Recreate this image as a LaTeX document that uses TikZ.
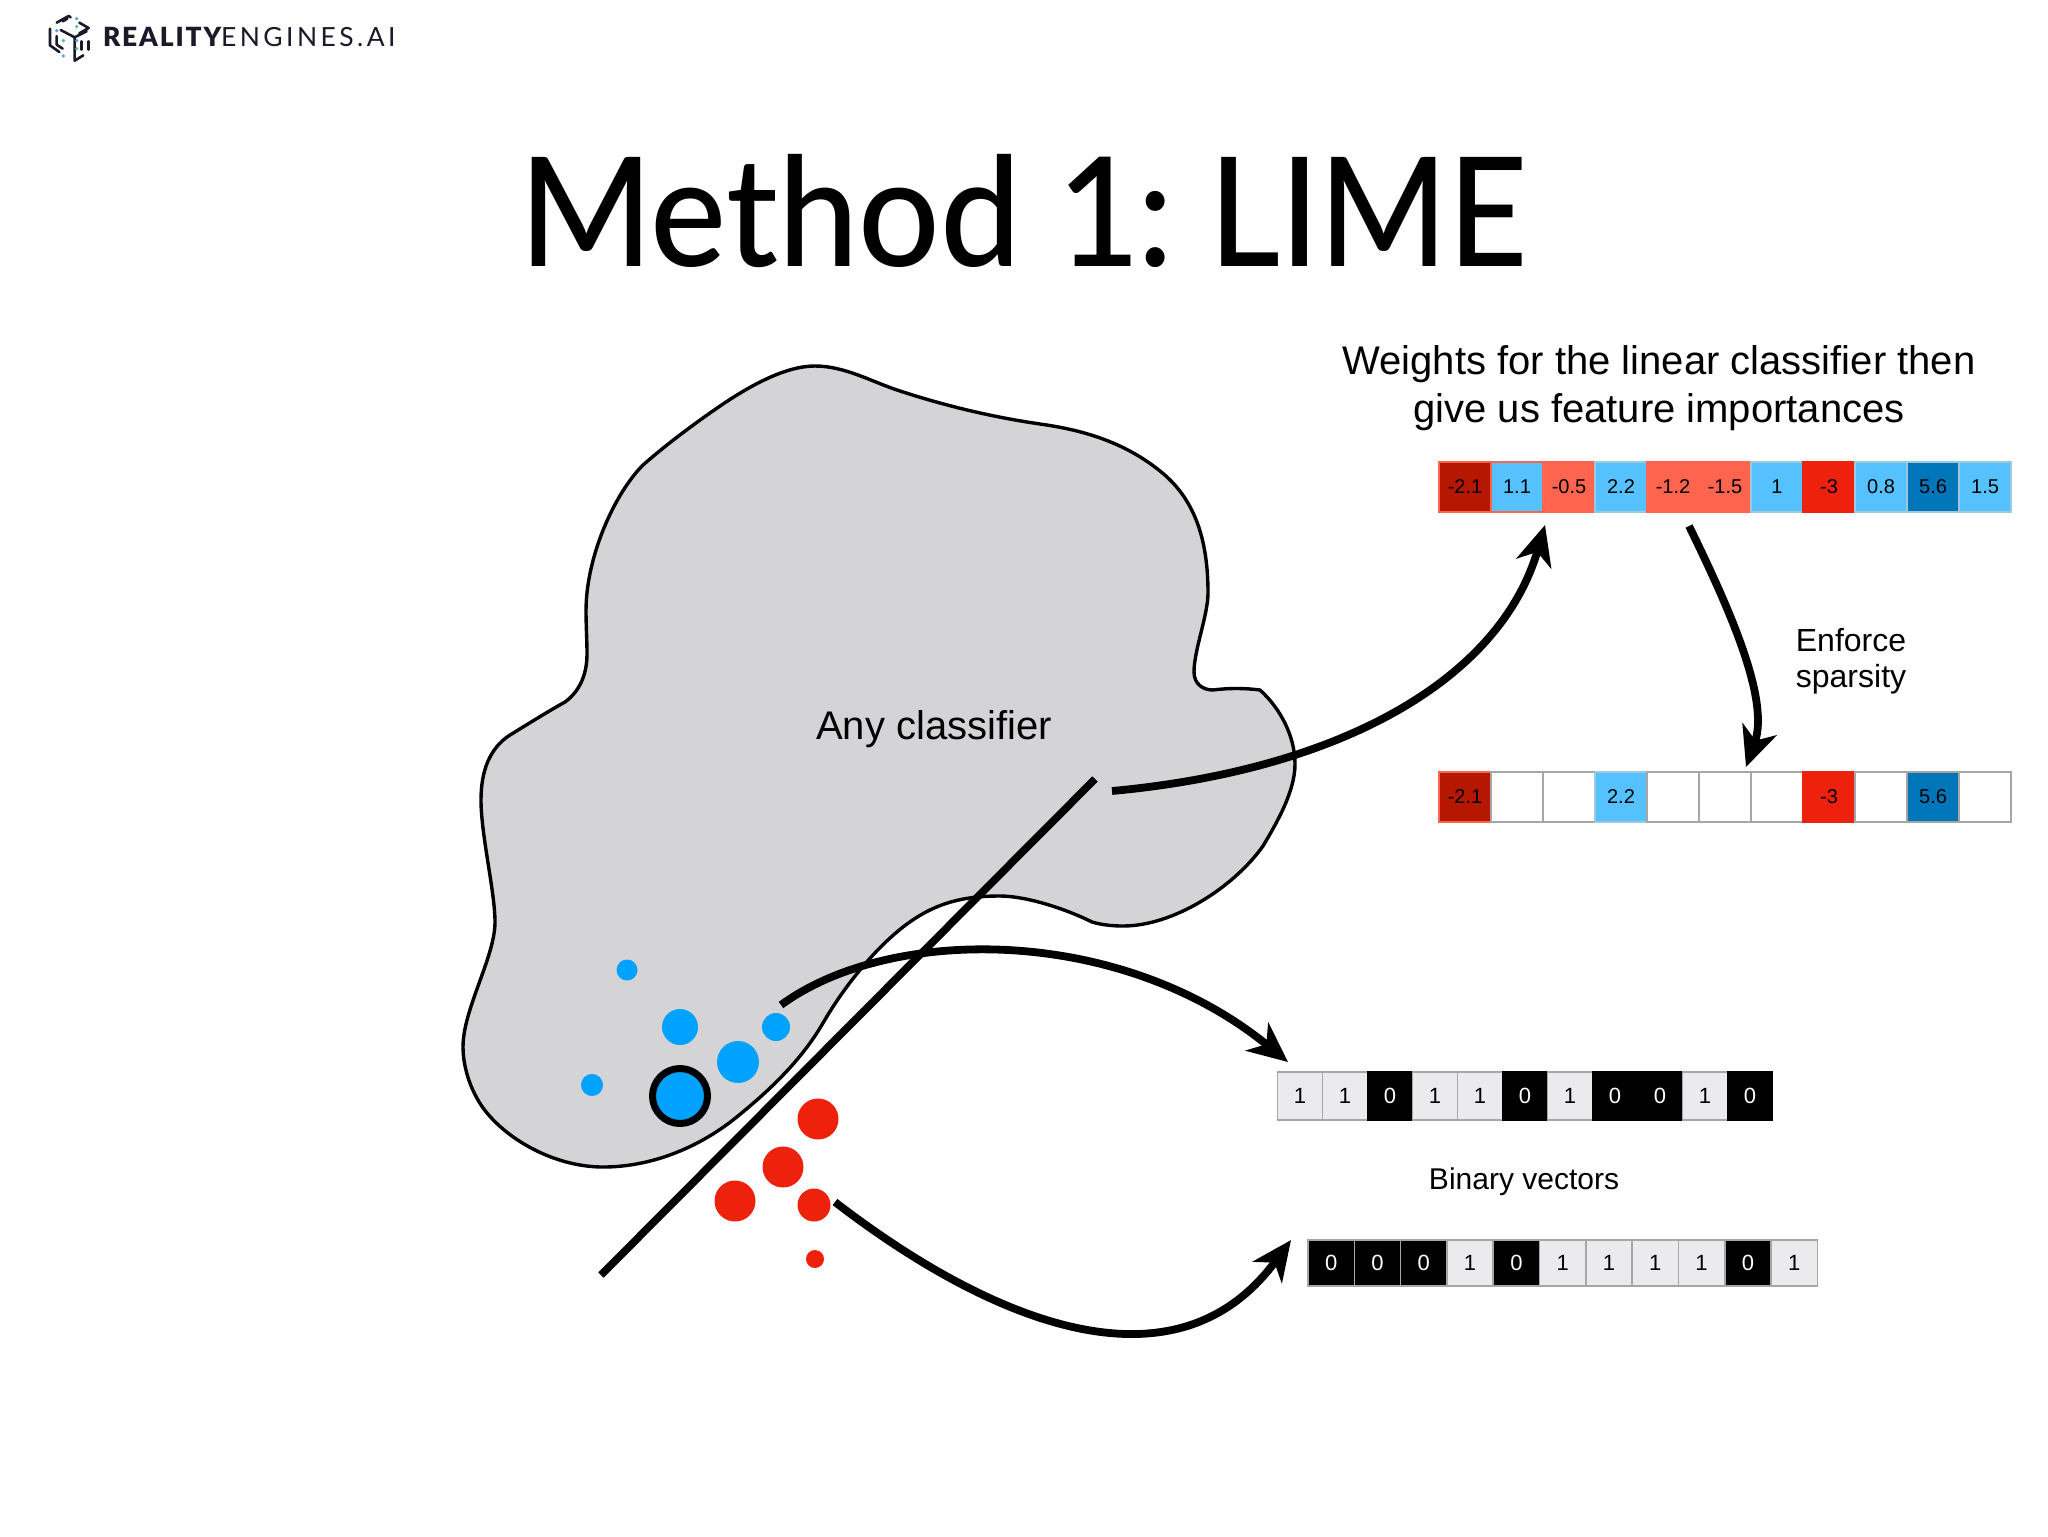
\documentclass[tikz,border=0pt]{standalone}
\usepackage{fontspec}
\usepackage{graphicx}
\usetikzlibrary{arrows.meta}
\setmainfont{Liberation Sans}
\newfontfamily\titlefont{Lato Medium}
\newfontfamily\logobold[LetterSpace=7]{Lato Black}
\newfontfamily\logoreg[LetterSpace=13]{Lato}
\definecolor{blobfill}{HTML}{D4D4D6}
\definecolor{dotblue}{HTML}{00A2FF}
\definecolor{dotred}{HTML}{EE220C}
\definecolor{lblue}{HTML}{56C1FF}
\definecolor{dblue}{HTML}{0076BA}
\definecolor{dred}{HTML}{B51700}
\definecolor{salmon}{HTML}{FF644E}
\definecolor{bitgray}{HTML}{EBEBEE}
\definecolor{cellline}{HTML}{A6A6A6}
\definecolor{blueedge}{HTML}{9CC8E0}
\definecolor{logoink}{HTML}{1A1A28}
\definecolor{logoblue}{HTML}{5B9BE0}
\definecolor{logogreen}{HTML}{4FC3A1}
\tikzset{
  cellbox/.style={minimum width=26pt,minimum height=25pt,inner sep=0pt,outer sep=0pt,font=\fontsize{10}{11}\selectfont,draw=#1,line width=0.8pt},
  bitone/.style={minimum width=22.5pt,minimum height=24pt,inner sep=0pt,outer sep=0pt,font=\fontsize{11}{13}\selectfont,line width=0.8pt,draw=cellline,fill=bitgray,text=black},
  bitzero/.style={minimum width=22.5pt,minimum height=24pt,inner sep=0pt,outer sep=0pt,font=\fontsize{11}{13}\selectfont,line width=0.8pt,draw=black,fill=black,text=white},
  dot/.style={circle,inner sep=0pt,outer sep=0pt,fill=#1,draw=none},
  txtnode/.style={inner sep=0pt,outer sep=0pt,align=center,font=\fontsize{16}{18}\selectfont},
  thickarrow/.style={line width=3.9pt,-{Stealth[length=20pt,width=18pt,inset=6pt]}},
  logoline/.style={draw=logoink,line width=1.3pt,line cap=round,line join=round},
}
\begin{document}
\begin{tikzpicture}[x=0.5pt,y=-0.5pt]
\useasboundingbox (0,0) rectangle (2048,1536);
\fill[white] (0,0) rectangle (2048,1536);
% logo
\begin{scope}[shift={(40,8)},x=0.16667pt,y=-0.16667pt]
\draw[logoline] (50,44)--(86,24)--(92,28);
\draw[logoline] (68,40)--(82,32);
\draw[logoline] (118,44)--(146,60)--(118,76);
\draw[logoline] (62,66)--(104,88)--(140,70);
\draw[logoline] (104,88)--(104,158)--(130,142);
\draw[logoline] (30,62)--(30,112)--(58,132);
\draw[logoline] (50,84)--(50,110)--(68,122);
\draw[logoline] (125,100)--(125,125);
\draw[logoline] (145,100)--(145,125);
\foreach \qx/\qy/\col in {110/32/logoblue,110/56/logogreen,50/68/logoblue,70/98/logogreen,110/98/logoblue,110/122/logogreen,70/144/logoblue}
  \fill[\col] (\qx,\qy) circle (5.5);
\end{scope}
\node[anchor=base west,inner sep=0pt,outer sep=0pt,font=\fontsize{13.2}{14}\selectfont,text=logoink] (logotext) at (103,47) {{\logobold REALITY}{\logoreg ENGINES.AI}};
% title
\node[anchor=base west,inner sep=0pt,outer sep=0pt,font=\fontsize{76}{80}\selectfont\titlefont] (title) at (519,266) {\scalebox{0.945}[1]{Method 1\kern-2pt:\ \scalebox{0.96}[1]{LIME}}};
% classifier region
\draw[fill=blobfill,draw=black,line width=1.7pt,line join=round]
 (815,366)
 .. controls +(30,0) and +(-28,-9) .. (900,391)
 .. controls +(46,15) and +(-48,-7) .. (1040,424)
 .. controls +(43,6) and +(-36,-29) .. (1160,471)
 .. controls +(34,27) and +(0,-55) .. (1208,593)
 .. controls +(0,22) and +(0,-22) .. (1194,672)
 .. controls +(0,12) and +(-10,0) .. (1213,690)
 .. controls +(15,-2) and +(-15,-2) .. (1260,690)
 .. controls +(20,18) and +(0,-28) .. (1295,764)
 .. controls +(0,28) and +(13,-22) .. (1263,846)
 .. controls +(-30,42) and +(50,0) .. (1123,926)
 .. controls +(-10,0) and +(10,3) .. (1092,922)
 .. controls +(-28,-14) and +(25,0) .. (1000,896)
 .. controls +(-35,0) and +(30,-22) .. (907,924)
 .. controls +(-30,22) and +(22,-38) .. (823,1023)
 .. controls +(-22,38) and +(35,-28) .. (733,1120)
 .. controls +(-36,28) and +(48,0) .. (603,1167)
 .. controls +(-45,0) and +(25,30) .. (487,1113)
 .. controls +(-15,-18) and +(0,22) .. (463,1047)
 .. controls +(0,-38) and +(0,35) .. (495,922)
 .. controls +(0,-30) and +(0,35) .. (481,800)
 .. controls +(0,-30) and +(-20,13) .. (510,735)
 .. controls +(18,-11) and +(-18,10) .. (565,702)
 .. controls +(15,-11) and +(0,20) .. (587,654)
 .. controls +(0,-14) and +(0,14) .. (586,611)
 .. controls +(0,-55) and +(-28,28) .. (643,465)
 .. controls +(25,-22) and +(-25,17) .. (723,404)
 .. controls +(27,-18) and +(-30,0) .. (815,366)
 -- cycle;
\node[txtnode,font=\fontsize{20}{22}\selectfont] (anyclf) at (934,729) {Any classifier};
% decision line
\coordinate (lineA) at (601,1275);
\coordinate (lineB) at (1095,779);
\draw[line width=3.8pt] (lineA) -- (lineB);
% dots
\node[dot=dotblue,minimum size=10.5pt] (p1) at (627,970) {};
\node[dot=dotblue,minimum size=18pt] (p2) at (680,1027) {};
\node[dot=dotblue,minimum size=21pt] (p3) at (738,1062) {};
\node[dot=dotblue,minimum size=14pt] (p4) at (776,1027) {};
\node[dot=dotblue,minimum size=11pt] (p5) at (592,1085) {};
\node[circle,inner sep=0pt,fill=dotblue,draw=black,line width=3.5pt,minimum size=27.5pt] (p0) at (680,1096) {};
\node[dot=dotred,minimum size=20.5pt] (n1) at (818,1119) {};
\node[dot=dotred,minimum size=20.5pt] (n2) at (783,1167) {};
\node[dot=dotred,minimum size=20.5pt] (n3) at (735,1201) {};
\node[dot=dotred,minimum size=16.5pt] (n4) at (814,1205) {};
\node[dot=dotred,minimum size=9pt] (n5) at (815,1259) {};
% texts
\node[txtnode,font=\fontsize{20}{24}\selectfont] (wt) at (1659,388) {Weights for the linear classifier then\\give us feature importances};
\node[txtnode] (enf) at (1851,661) {Enforce\\sparsity};
\node[txtnode,font=\fontsize{15}{17}\selectfont] (bin) at (1524,1182) {Binary vectors};
% weight row
\foreach \v/\c/\e [count=\i from 0] in {-2.1/dred/salmon,1.1/lblue/salmon,-0.5/salmon/salmon,2.2/lblue/blueedge,-1.2/salmon/salmon,-1.5/salmon/salmon,1/lblue/blueedge,-3/dotred/dotred,0.8/lblue/blueedge,5.6/dblue/blueedge,1.5/lblue/blueedge}
  \node[cellbox=\e,fill=\c] (w\i) at ({1439+52*(\i+0.5)},487) {\v};
% sparse row
\foreach \v/\c/\e [count=\i from 0] in {-2.1/dred/salmon,{}/white/cellline,{}/white/cellline,2.2/lblue/blueedge,{}/white/cellline,{}/white/cellline,{}/white/cellline,-3/dotred/dotred,{}/white/cellline,5.6/dblue/cellline,{}/white/cellline}
  \node[cellbox=\e,fill=\c] (s\i) at ({1439+52*(\i+0.5)},797) {\v};
% binary rows
\foreach \v [count=\i from 0] in {1,1,0,1,1,0,1,0,0,1,0}{
  \ifnum\v=1 \tikzset{curbit/.style={bitone}}\else\tikzset{curbit/.style={bitzero}}\fi
  \node[curbit] (a\i) at ({1277.5+45*(\i+0.5)},1096) {\v};
}
\foreach \v [count=\i from 0] in {0,0,0,1,0,1,1,1,1,0,1}{
  \ifnum\v=1 \tikzset{curbit/.style={bitone}}\else\tikzset{curbit/.style={bitzero,draw=cellline}}\fi
  \node[curbit,minimum width=23.15pt,minimum height=23pt] (b\i) at ({1308+46.3*(\i+0.5)},1263) {\v};
}
% arrows
\coordinate (a1s) at (1112,791);
\coordinate (a1e) at (1545,525);
\coordinate (a2s) at (1689,526);
\coordinate (a2e) at (1746,767);
\coordinate (a3s) at (781,1005);
\coordinate (a3e) at (1288,1062);
\coordinate (a4s) at (835,1202);
\coordinate (a4e) at (1291,1240);
\draw[thickarrow] (a1s) .. controls (1340,770) and (1500,680) .. (a1e);
\draw[thickarrow] (a2s) .. controls (1730,610) and (1770,700) .. (a2e);
\draw[thickarrow] (a3s) .. controls (890,925) and (1120,925) .. (a3e);
\draw[thickarrow] (a4s) .. controls (975,1310) and (1170,1405) .. (a4e);
\end{tikzpicture}
\end{document}
